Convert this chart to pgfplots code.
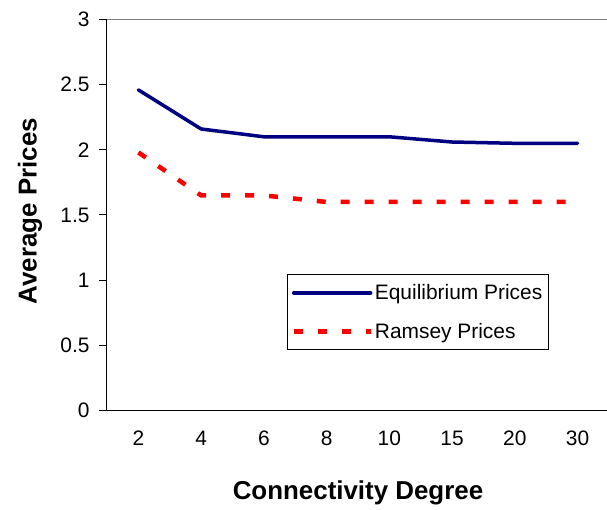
\documentclass[border=0pt]{standalone}
\usepackage{pgfplots}
\pgfplotsset{compat=1.18}
\usepackage{fontspec}
\setmainfont{Liberation Sans}
\definecolor{navyline}{RGB}{0,0,128}
\definecolor{redline}{RGB}{255,0,0}
\begin{document}
\begin{tikzpicture}
\path[use as bounding box] (-107bp,-99.5bp) rectangle (500bp,410.5bp);
\begin{axis}[
  at={(0,0)}, anchor=south west,
  scale only axis, width=502bp, height=391bp,
  xmin=-0.5, xmax=7.5, ymin=0, ymax=3,
  axis x line*=bottom, axis y line*=left,
  axis line style={black, line width=1bp},
  xtick={0,1,2,3,4,5,6,7},
  xticklabels={2,4,6,8,10,15,20,30},
  major x tick style={draw=none},
  extra x ticks={-0.5,0.5,1.5,2.5,3.5,4.5,5.5,6.5},
  extra x tick labels={},
  extra x tick style={major tick length=10bp, tick style={black, line width=1bp}},
  ytick={0,0.5,1,1.5,2,2.5,3},
  yticklabels={0,0.5,1,1.5,2,2.5,3},
  tick align=outside,
  major tick length=8bp,
  tick style={black, line width=1bp},
  ticklabel style={font=\fontsize{21}{24}\selectfont},
  xticklabel style={anchor=center, yshift=-20bp},
  yticklabel style={anchor=east, xshift=-6bp},
  xlabel={Connectivity Degree},
  ylabel={Average Prices},
  xlabel style={at={([yshift=-82bp]axis description cs:0.5,0)}, anchor=center, font=\fontsize{26}{30}\selectfont\bfseries},
  ylabel style={at={([xshift=-77bp]axis description cs:0,0.51)}, anchor=center, font=\fontsize{26}{30}\selectfont\bfseries},
  legend style={at={(axis description cs:0.3586,0.349)}, anchor=north west,
    draw=black, line width=0.8bp, font=\fontsize{21}{24}\selectfont,
    row sep=18bp, inner xsep=4bp, inner ysep=8bp},
  legend cell align=left,
  legend image code/.code={\draw[#1] (0bp,0bp) -- (77bp,0bp);},
]
\draw[gray, line width=1.5bp] (rel axis cs:0,1) -- (rel axis cs:1,1);
\addplot[navyline, line width=3.5bp, line join=round, line cap=round] coordinates {
  (0,2.46) (1,2.16) (2,2.10) (3,2.10) (4,2.10) (5,2.06) (6,2.05) (7,2.05)
};
\addlegendentry{Equilibrium Prices}
\addplot[redline, line width=4.5bp, dash pattern=on 9bp off 15bp] coordinates {
  (0,1.98) (1,1.65) (2,1.65) (3,1.60) (4,1.60) (5,1.60) (6,1.60) (7,1.60)
};
\addlegendentry{Ramsey Prices}
\end{axis}
\end{tikzpicture}
\end{document}
